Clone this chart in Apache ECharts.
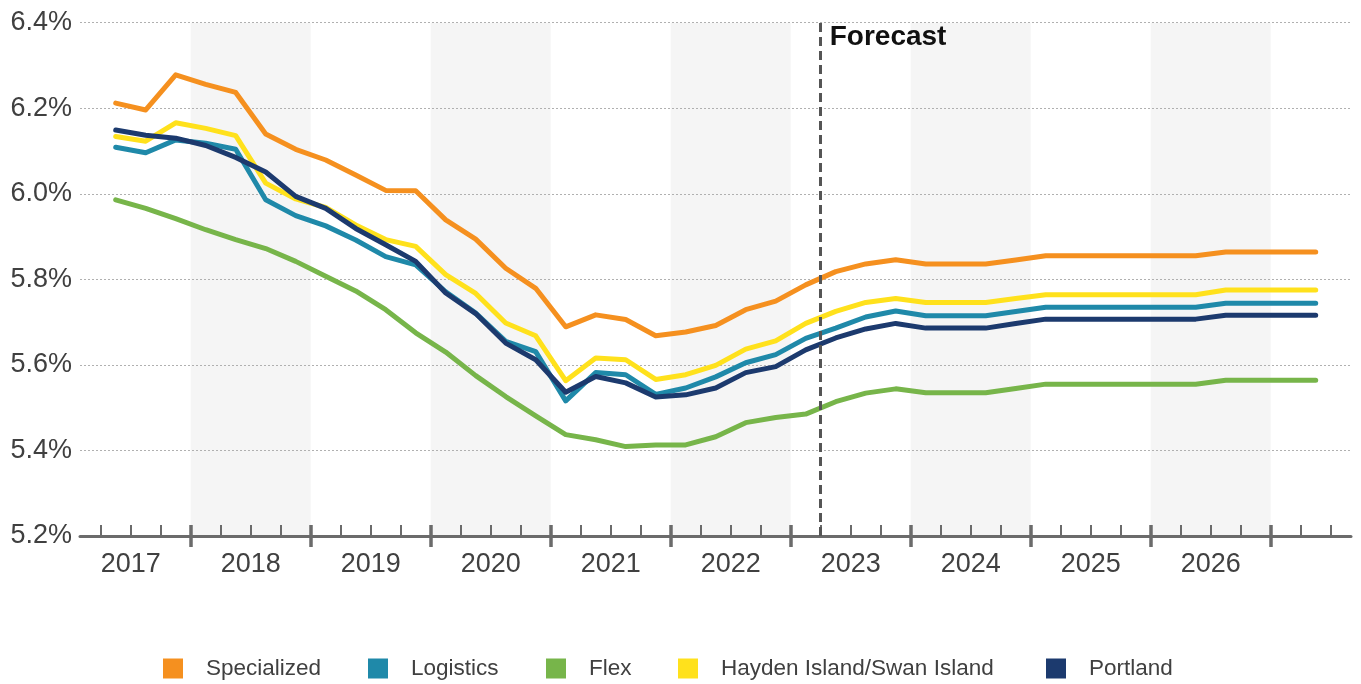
<!DOCTYPE html>
<html>
<head>
<meta charset="utf-8">
<script src="https://cdn.jsdelivr.net/npm/echarts@6/dist/echarts.min.js"></script>
<style>
  html, body { margin: 0; padding: 0; background: #ffffff; }
  #chart { width: 1361px; height: 684px; }
</style>
</head>
<body>
<div id="chart"></div>
<script>
// Quarterly cap rates (%), first value is 2017 Q2; forecast starts 2023 Q2
const specialized = [
  6.212, 6.196, 6.278, 6.256, 6.237, 6.140, 6.104, 6.079, 6.044, 6.008,
  6.007, 5.939, 5.894, 5.826, 5.779, 5.689, 5.717, 5.706, 5.668, 5.677,
  5.692, 5.729, 5.749, 5.787, 5.818, 5.836, 5.846, 5.836, 5.836, 5.836,
  5.845, 5.855, 5.855, 5.855, 5.855, 5.855, 5.855, 5.864, 5.864, 5.864, 5.864
];
const logistics = [
  6.109, 6.096, 6.126, 6.118, 6.104, 5.986, 5.949, 5.925, 5.892, 5.853,
  5.834, 5.771, 5.721, 5.655, 5.631, 5.516, 5.582, 5.577, 5.531, 5.546,
  5.572, 5.605, 5.624, 5.662, 5.686, 5.712, 5.726, 5.715, 5.715, 5.715,
  5.725, 5.735, 5.735, 5.735, 5.735, 5.735, 5.735, 5.744, 5.744, 5.744, 5.744
];
const flex = [
  5.986, 5.966, 5.942, 5.916, 5.893, 5.872, 5.842, 5.807, 5.773, 5.729,
  5.675, 5.630, 5.575, 5.526, 5.481, 5.437, 5.425, 5.409, 5.413, 5.413,
  5.432, 5.465, 5.477, 5.485, 5.514, 5.534, 5.544, 5.535, 5.535, 5.535,
  5.545, 5.555, 5.555, 5.555, 5.555, 5.555, 5.555, 5.564, 5.564, 5.564, 5.564
];
const haydenSwan = [
  6.134, 6.123, 6.166, 6.153, 6.136, 6.025, 5.988, 5.968, 5.927, 5.893,
  5.877, 5.811, 5.767, 5.698, 5.668, 5.563, 5.616, 5.612, 5.566, 5.577,
  5.599, 5.637, 5.656, 5.697, 5.725, 5.746, 5.755, 5.746, 5.746, 5.746,
  5.755, 5.764, 5.764, 5.764, 5.764, 5.764, 5.764, 5.775, 5.775, 5.775, 5.775
];
const portland = [
  6.149, 6.137, 6.130, 6.113, 6.085, 6.051, 5.994, 5.966, 5.919, 5.881,
  5.842, 5.768, 5.720, 5.651, 5.612, 5.536, 5.573, 5.558, 5.525, 5.530,
  5.546, 5.582, 5.596, 5.635, 5.663, 5.684, 5.697, 5.686, 5.686, 5.686,
  5.697, 5.707, 5.707, 5.707, 5.707, 5.707, 5.707, 5.716, 5.716, 5.716, 5.716
];

const seriesNames = ['Specialized', 'Logistics', 'Flex', 'Hayden Island/Swan Island', 'Portland'];
const years = [2017, 2018, 2019, 2020, 2021, 2022, 2023, 2024, 2025, 2026];
const shadedYears = [2018, 2020, 2022, 2024, 2026];
const yTicks = [5.2, 5.4, 5.6, 5.8, 6.0, 6.2, 6.4];
const forecastLabel = 'Forecast';
const forecastStart = 2023.25;   // start of 2023 Q2
const firstQuarterMid = 2017.375; // mid-point of 2017 Q2

const colors = ['#F5901F', '#1F89A9', '#77B54A', '#FFE11C', '#1C3A6E'];
const legendLefts = [163, 368, 546, 678, 1046];
const FONT = "'Liberation Sans', Arial, sans-serif";
const AXIS_GRAY = '#6b6b6b';
const TEXT_GRAY = '#404040';

// x axis runs in fractional years
const xMin = 2017.0775;
const xMax = 2027.669;

const quarterTicks = [];
const yearTicks = [];
for (let y = 2017; y <= 2027; y++) {
  for (let q = 0; q < 4; q++) {
    const v = y + q / 4;
    if (q === 0) yearTicks.push(v); else quarterTicks.push(v);
  }
}
const labelPositions = years.map(y => y + 0.5);

const toPoints = arr => arr.map((v, i) => [firstQuarterMid + i * 0.25, v]);
const allValues = [specialized, logistics, flex, haydenSwan, portland];

const baseX = {
  type: 'value', position: 'bottom', min: xMin, max: xMax, z: 1,
  splitLine: { show: false }, splitArea: { show: false }
};

const chart = echarts.init(document.getElementById('chart'), null, { renderer: 'canvas' });

const lineSeries = allValues.map((arr, i) => ({
  name: seriesNames[i],
  type: 'line',
  data: toPoints(arr),
  color: colors[i],
  showSymbol: false,
  symbol: 'none',
  z: 3,
  lineStyle: { width: 5, color: colors[i], cap: 'round', join: 'round' },
  emphasis: { disabled: true },
  silent: true
}));

// one legend block per series so each entry sits at its own spot
const legends = seriesNames.map((name, i) => ({
  data: [name],
  left: legendLefts[i],
  top: 657,
  padding: 0,
  icon: 'rect',
  itemWidth: 20,
  itemHeight: 20,
  selectedMode: false,
  textStyle: { fontSize: 22.5, color: TEXT_GRAY, fontFamily: FONT, padding: [0, 0, 0, 18] }
}));

chart.setOption({
  animation: false,
  backgroundColor: '#ffffff',
  textStyle: { fontFamily: FONT },
  grid: { left: 80, right: 10, top: 22.7, bottom: 148, containLabel: false },
  legend: legends,
  xAxis: [
    Object.assign({}, baseX, {
      axisLine: { show: true, lineStyle: { color: AXIS_GRAY, width: 3 } },
      axisTick: { show: true, inside: true, length: 11, customValues: quarterTicks,
                  lineStyle: { color: AXIS_GRAY, width: 2 } },
      axisLabel: { show: true, customValues: labelPositions,
                   formatter: v => String(Math.floor(v)),
                   fontSize: 27, color: TEXT_GRAY, margin: 15, fontFamily: FONT }
    }),
    Object.assign({}, baseX, {
      axisLine: { show: false },
      axisTick: { show: true, inside: true, length: 11, customValues: yearTicks,
                  lineStyle: { color: AXIS_GRAY, width: 3.5 } },
      axisLabel: { show: false }
    }),
    Object.assign({}, baseX, {
      axisLine: { show: false },
      axisTick: { show: true, inside: false, length: 11, customValues: yearTicks,
                  lineStyle: { color: AXIS_GRAY, width: 3.5 } },
      axisLabel: { show: false }
    })
  ],
  yAxis: {
    type: 'value',
    min: yTicks[0],
    max: yTicks[yTicks.length - 1],
    interval: 0.2,
    z: 1,
    axisLine: { show: false },
    axisTick: { show: false },
    axisLabel: { formatter: v => v.toFixed(1) + '%', fontSize: 27, color: TEXT_GRAY,
                 margin: 8, fontFamily: FONT },
    splitLine: { show: true, lineStyle: { color: '#b0b0b0', width: 1, type: [2, 2] } }
  },
  series: [
    {
      name: 'bands',
      type: 'line',
      data: [],
      z: 0,
      silent: true,
      markArea: {
        silent: true,
        z: 0,
        itemStyle: { color: '#f5f5f5' },
        data: shadedYears.map(y => [{ xAxis: y }, { xAxis: y + 1 }])
      },
      markLine: {
        silent: true,
        symbol: ['none', 'none'],
        label: { show: false },
        lineStyle: { color: '#555555', width: 3, type: [9, 5] },
        data: [{ xAxis: forecastStart }]
      },
      markPoint: {
        silent: true,
        symbol: 'circle',
        symbolSize: 0,
        label: {
          show: true,
          formatter: forecastLabel,
          position: 'right',
          distance: 9,
          offset: [0, 15],
          fontSize: 28,
          fontWeight: 'bold',
          color: '#111111',
          fontFamily: FONT
        },
        data: [{ coord: [forecastStart, yTicks[yTicks.length - 1]] }]
      }
    }
  ].concat(lineSeries)
});
</script>
</body>
</html>
